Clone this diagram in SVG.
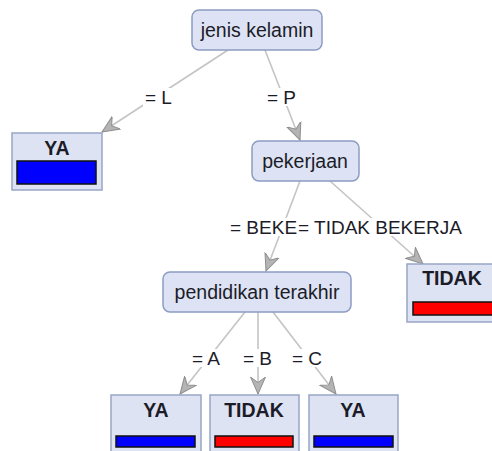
<svg xmlns="http://www.w3.org/2000/svg" width="492" height="451" viewBox="0 0 492 451">
  <style>
    .node rect.box { fill: #dde3f4; stroke: #8d9cc2; stroke-width: 1.5; }
    .leaf rect.box { fill: #dde3f3; stroke: #98a6c6; stroke-width: 1.5; }
    .ntext { font-family: "Liberation Sans", Arial, sans-serif; font-size: 19.5px; fill: #1c1c28; text-anchor: middle; }
    .ltext { font-family: "Liberation Sans", Arial, sans-serif; font-size: 19.5px; font-weight: bold; fill: #1c1c28; text-anchor: middle; }
    .edge { stroke: #c4c4c4; stroke-width: 1.6; fill: none; marker-end: url(#arr); }
    .elabel { font-family: "Liberation Sans", Arial, sans-serif; font-size: 19px; fill: #1c1c28; }
    .lbg { fill: #ffffff; }
    .ya { fill: #0000ff; stroke: #111; stroke-width: 1.5; }
    .tidak { fill: #ff0000; stroke: #111; stroke-width: 1.5; }
  </style>
  <defs>
    <marker id="arr" markerUnits="userSpaceOnUse" markerWidth="22" markerHeight="22" refX="17" refY="9" orient="auto">
      <path d="M17,9 L0,1.5 L5.5,9 L0,16.5 Z" fill="#b4b4b4" stroke="#8e8e8e" stroke-width="1"/>
    </marker>
  </defs>

  <rect width="492" height="451" fill="#ffffff"/>

  <!-- connectors -->
  <g id="connectors">
    <line class="edge" x1="228" y1="50" x2="102" y2="132"/>
    <line class="edge" x1="265" y1="50" x2="300" y2="140"/>
    <line class="edge" x1="300" y1="181" x2="266" y2="271"/>
    <line class="edge" x1="330" y1="181" x2="423" y2="264"/>
    <line class="edge" x1="245" y1="312" x2="180" y2="394"/>
    <line class="edge" x1="258" y1="312" x2="258" y2="394"/>
    <line class="edge" x1="273" y1="312" x2="336" y2="394"/>

    <!-- edge labels with white backing -->
    <rect class="lbg" x="143" y="88" width="33" height="18"/>
    <text class="elabel" x="145" y="104">= L</text>
    <rect class="lbg" x="265" y="88" width="34" height="18"/>
    <text class="elabel" x="267" y="104">= P</text>
    <rect class="lbg" x="228" y="218" width="242" height="18"/>
    <text class="elabel" x="230" y="234">= BEKE</text>
    <text class="elabel" x="298" y="234">= TIDAK BEKERJA</text>
    <rect class="lbg" x="190" y="349" width="34" height="18"/>
    <text class="elabel" x="192" y="365">= A</text>
    <rect class="lbg" x="241" y="349" width="36" height="18"/>
    <text class="elabel" x="243" y="365">= B</text>
    <rect class="lbg" x="290" y="349" width="34" height="18"/>
    <text class="elabel" x="292" y="365">= C</text>
  </g>

  <!-- decision nodes -->
  <g id="jenis-kelamin" class="node">
    <rect class="box" x="192" y="10" width="130" height="40" rx="7"/>
    <text class="ntext" x="257" y="37">jenis kelamin</text>
  </g>
  <g id="pekerjaan" class="node">
    <rect class="box" x="252" y="141" width="107" height="40" rx="7"/>
    <text class="ntext" x="305" y="168">pekerjaan</text>
  </g>
  <g id="pendidikan-terakhir" class="node">
    <rect class="box" x="163" y="272" width="188" height="40" rx="7"/>
    <text class="ntext" x="257" y="299">pendidikan terakhir</text>
  </g>

  <!-- leaves -->
  <g id="leaf-l-ya" class="leaf">
    <rect class="box" x="12" y="133" width="90" height="57"/>
    <text class="ltext" x="57" y="155">YA</text>
    <rect class="ya" x="17" y="161" width="79" height="23"/>
  </g>
  <g id="leaf-tidak-bekerja" class="leaf">
    <rect class="box" x="407" y="264" width="95" height="58"/>
    <text class="ltext" x="452" y="285">TIDAK</text>
    <rect class="tidak" x="413" y="302" width="85" height="13"/>
  </g>
  <g id="leaf-a-ya" class="leaf">
    <rect class="box" x="111" y="395" width="90" height="62"/>
    <text class="ltext" x="156" y="417">YA</text>
    <rect class="ya" x="116" y="436" width="79" height="11"/>
  </g>
  <g id="leaf-b-tidak" class="leaf">
    <rect class="box" x="210" y="395" width="89" height="62"/>
    <text class="ltext" x="254" y="417">TIDAK</text>
    <rect class="tidak" x="215" y="436" width="78" height="11"/>
  </g>
  <g id="leaf-c-ya" class="leaf">
    <rect class="box" x="309" y="395" width="89" height="62"/>
    <text class="ltext" x="353" y="417">YA</text>
    <rect class="ya" x="314" y="436" width="79" height="11"/>
  </g>
</svg>
